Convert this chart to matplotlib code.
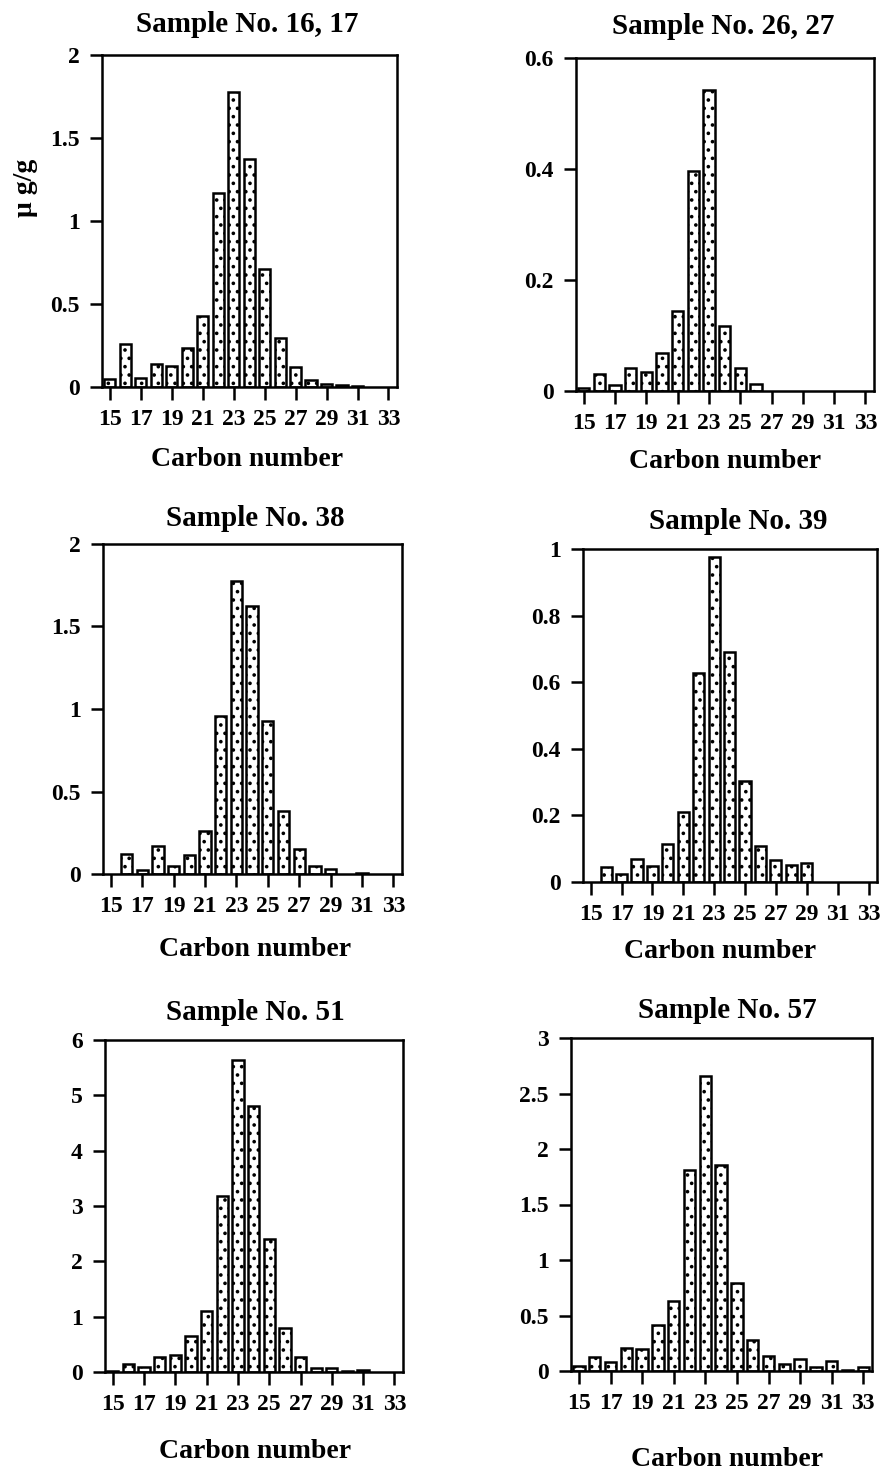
import matplotlib
matplotlib.use("Agg")
import matplotlib.pyplot as plt

plt.rcParams['font.family'] = ['Liberation Serif', 'DejaVu Serif']
plt.rcParams['font.weight'] = 'bold'
plt.rcParams['hatch.linewidth'] = 1.4

# carbon numbers C15 .. C33
carbon = list(range(15, 34))
tick_carbon = list(range(15, 34, 2))

# concentrations (ug/g)
s16_17 = [0.05, 0.26, 0.056, 0.14, 0.124, 0.236, 0.43, 1.166, 1.78, 1.376,
          0.71, 0.298, 0.118, 0.042, 0.016, 0.01, 0.008, 0, 0]
s26_27 = [0.005, 0.031, 0.010, 0.042, 0.034, 0.069, 0.144, 0.396, 0.543, 0.117,
          0.041, 0.012, 0, 0, 0, 0, 0, 0, 0]
s38 = [0, 0.121, 0.026, 0.171, 0.046, 0.115, 0.26, 0.958, 1.776, 1.623,
       0.927, 0.383, 0.149, 0.05, 0.03, 0, 0.008, 0, 0]
s39 = [0, 0.045, 0.023, 0.069, 0.048, 0.114, 0.21, 0.629, 0.975, 0.69,
       0.302, 0.109, 0.067, 0.05, 0.057, 0, 0, 0, 0]
s51 = [0.01, 0.15, 0.084, 0.265, 0.313, 0.645, 1.108, 3.175, 5.63, 4.81,
       2.41, 0.795, 0.265, 0.078, 0.078, 0.018, 0.036, 0, 0]
s57 = [0.045, 0.123, 0.084, 0.205, 0.202, 0.41, 0.627, 1.807, 2.66, 1.858,
       0.795, 0.28, 0.136, 0.06, 0.105, 0.033, 0.093, 0.012, 0.033]

titles = ["Sample No. 16, 17", "Sample No. 26, 27", "Sample No. 38",
          "Sample No. 39", "Sample No. 51", "Sample No. 57"]
series = [s16_17, s26_27, s38, s39, s51, s57]
yticks = [[0, 0.5, 1, 1.5, 2], [0, 0.2, 0.4, 0.6], [0, 0.5, 1, 1.5, 2],
          [0, 0.2, 0.4, 0.6, 0.8, 1], [0, 1, 2, 3, 4, 5, 6],
          [0, 0.5, 1, 1.5, 2, 2.5, 3]]

W, H = 884, 1471
fig = plt.figure(figsize=(W / 100, H / 100), dpi=100)

# panel boxes in pixels: left, right, top, bottom ; title (x, y) ; xlabel (x, y)
boxes = [(102, 397, 55, 387, 247, 25, 247, 459),
         (576, 874, 58, 391, 723, 27, 725, 462),
         (103, 402, 544, 874, 255, 518, 255, 950),
         (583, 877, 549, 882, 738, 521, 720, 952),
         (105, 403, 1040, 1372, 255, 1013, 255, 1452),
         (571, 872, 1038, 1371, 727, 1010, 727, 1459)]

for (l, r, t, b, tx, ty, lx, ly), vals, title, yt in zip(boxes, series, titles, yticks):
    ax = fig.add_axes([l / W, 1 - b / H, (r - l) / W, (b - t) / H])
    xs = [c for c, v in zip(carbon, vals) if v > 0]
    hs = [v for v in vals if v > 0]
    ax.bar(xs, hs, width=0.72, color='white', edgecolor='black',
           linewidth=1.8, hatch='..')
    ax.set_xlim(14.5, 33.55)
    ax.set_ylim(0, yt[-1])
    ax.set_xticks(tick_carbon)
    ax.set_yticks(yt)
    ax.set_yticklabels(['%g' % v for v in yt])
    ax.tick_params(direction='out', length=9, width=1.8, labelsize=17, pad=7)
    for sp in ax.spines.values():
        sp.set_linewidth(1.8)
    fig.text(tx / W, 1 - ty / H, title, ha='center', va='center',
             fontsize=21, fontweight='bold')
    fig.text(lx / W, 1 - ly / H, 'Carbon number', ha='center', va='center',
             fontsize=20, fontweight='bold')

fig.text(25 / W, 1 - 188 / H, 'μ g/g', rotation=90, ha='center', va='center',
         fontsize=20, fontweight='bold')

plt.savefig('out.png', dpi=100)
